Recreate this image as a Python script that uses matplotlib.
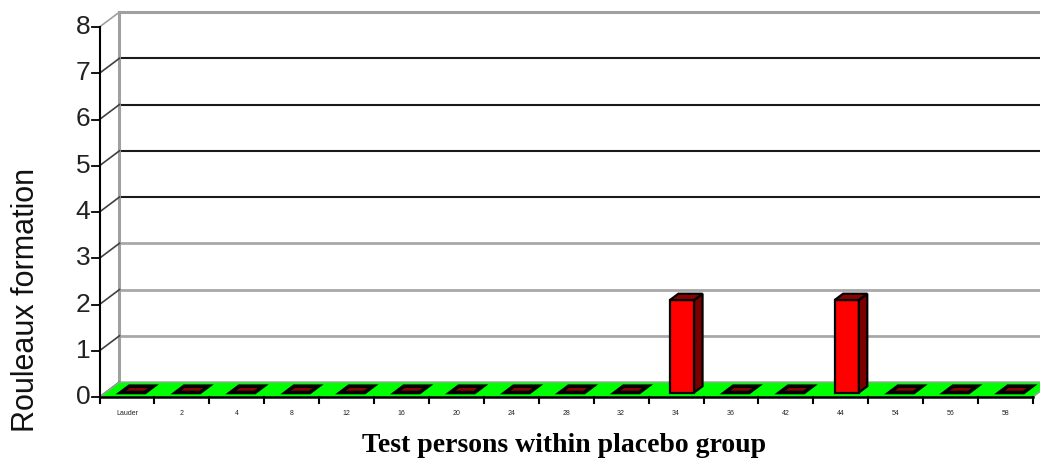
import matplotlib
matplotlib.use("Agg")
from matplotlib import pyplot as plt
from matplotlib.patches import Polygon

# data
persons = ["Lauder", "2", "4", "8", "12", "16", "20", "24", "28",
           "32", "34", "36", "42", "44", "54", "56", "58"]
rouleaux = [0, 0, 0, 0, 0, 0, 0, 0, 0, 0, 2, 0, 0, 2, 0, 0, 0]
y_ticks = [0, 1, 2, 3, 4, 5, 6, 7, 8]

# fake 3d depth, in data units
DX = 0.364
DY = 0.324
BAR_W = 0.44
F_FRONT = 0.3
F_BACK = 0.72


def poly(ax, pts, fc, ec="black", lw=1.0, z=2):
    ax.add_patch(Polygon(pts, closed=True, facecolor=fc, edgecolor=ec,
                         linewidth=lw, zorder=z, clip_on=False, joinstyle="miter"))


def draw_chart(ax):
    n = len(persons)
    ymax = y_ticks[-1]
    ax.set_xlim(0, n)
    ax.set_ylim(0, ymax)
    ax.axis("off")

    # back wall
    poly(ax, [(DX, DY), (n + 2, DY), (n + 2, ymax + DY), (DX, ymax + DY)],
         "white", ec="none", z=0)
    for v in y_ticks[1:]:
        if v == ymax:
            col, lw = "#a0a0a0", 2.2
        elif v >= 4:
            col, lw = "#1a1a1a", 1.5
        else:
            col, lw = "#a8a8a8", 2.0
        ax.plot([DX, n + 2], [v + DY, v + DY], color=col, lw=lw,
                clip_on=False, zorder=1)
    ax.plot([DX, DX], [DY, ymax + DY], color="#a0a0a0", lw=2.2,
            clip_on=False, zorder=1)
    # side wall diagonals
    for v in y_ticks:
        col = "#a0a0a0" if v == ymax else "#404040"
        ax.plot([0, DX], [v, v + DY], color=col, lw=1.2, clip_on=False, zorder=1)

    # floor
    poly(ax, [(0, 0), (n, 0), (n + DX, DY), (DX, DY)], "#00ff00",
         ec="#a0a0a0", lw=1.0, z=1)

    # bars
    for i, val in enumerate(rouleaux):
        x0 = i + 0.5 - BAR_W / 2 + F_FRONT * DX
        x1 = x0 + BAR_W
        y0 = F_FRONT * DY
        ddx = (F_BACK - F_FRONT) * DX
        ddy = (F_BACK - F_FRONT) * DY
        top = val + y0
        if val > 0:
            poly(ax, [(x0, y0), (x1, y0), (x1, top), (x0, top)], "#ff0000", lw=1.6, z=3)
            poly(ax, [(x1, y0), (x1 + ddx, y0 + ddy), (x1 + ddx, top + ddy), (x1, top)],
                 "#7a0000", lw=1.6, z=3)
        poly(ax, [(x0, top), (x1, top), (x1 + ddx, top + ddy), (x0 + ddx, top + ddy)],
             "#8b0000", lw=2.6 if val == 0 else 1.6, z=4)

    # front axes
    ax.plot([0, 0], [0, ymax], color="black", lw=1.5, clip_on=False, zorder=5)
    ax.plot([0, n], [0, 0], color="black", lw=1.8, clip_on=False, zorder=5)
    for v in y_ticks:
        ax.plot([-0.14, 0], [v, v], color="black", lw=1.3, clip_on=False, zorder=5)
        ax.text(-0.17, v, str(v), ha="right", va="center", fontsize=19,
                family="Liberation Sans", color="#222222")
    for i in range(n + 1):
        ax.plot([i, i], [0, -0.13], color="black", lw=1.5, clip_on=False, zorder=5)
    for i, lab in enumerate(persons):
        ax.text(i + 0.5, -0.36, lab, ha="center", va="center", fontsize=5,
                family="Liberation Sans", color="#222222")


def make_plot(output_file):
    fig = plt.figure(figsize=(10.4, 4.58), dpi=100)
    ax = fig.add_axes([99.5 / 1040, 61 / 458, 933.5 / 1040, 370 / 458])
    draw_chart(ax)
    fig.text(564 / 1040, 1 - 445 / 458, "Test persons within placebo group",
             ha="center", va="center", fontsize=20, fontweight="bold",
             family="Liberation Serif")
    fig.text(26 / 1040, 1 - 300 / 458, "Rouleaux formation", rotation=90,
             ha="center", va="center", fontsize=22, family="Liberation Sans",
             color="#111111")
    fig.savefig(output_file, dpi=100)
    plt.close(fig)


if __name__ == "__main__":
    make_plot("out.png")
